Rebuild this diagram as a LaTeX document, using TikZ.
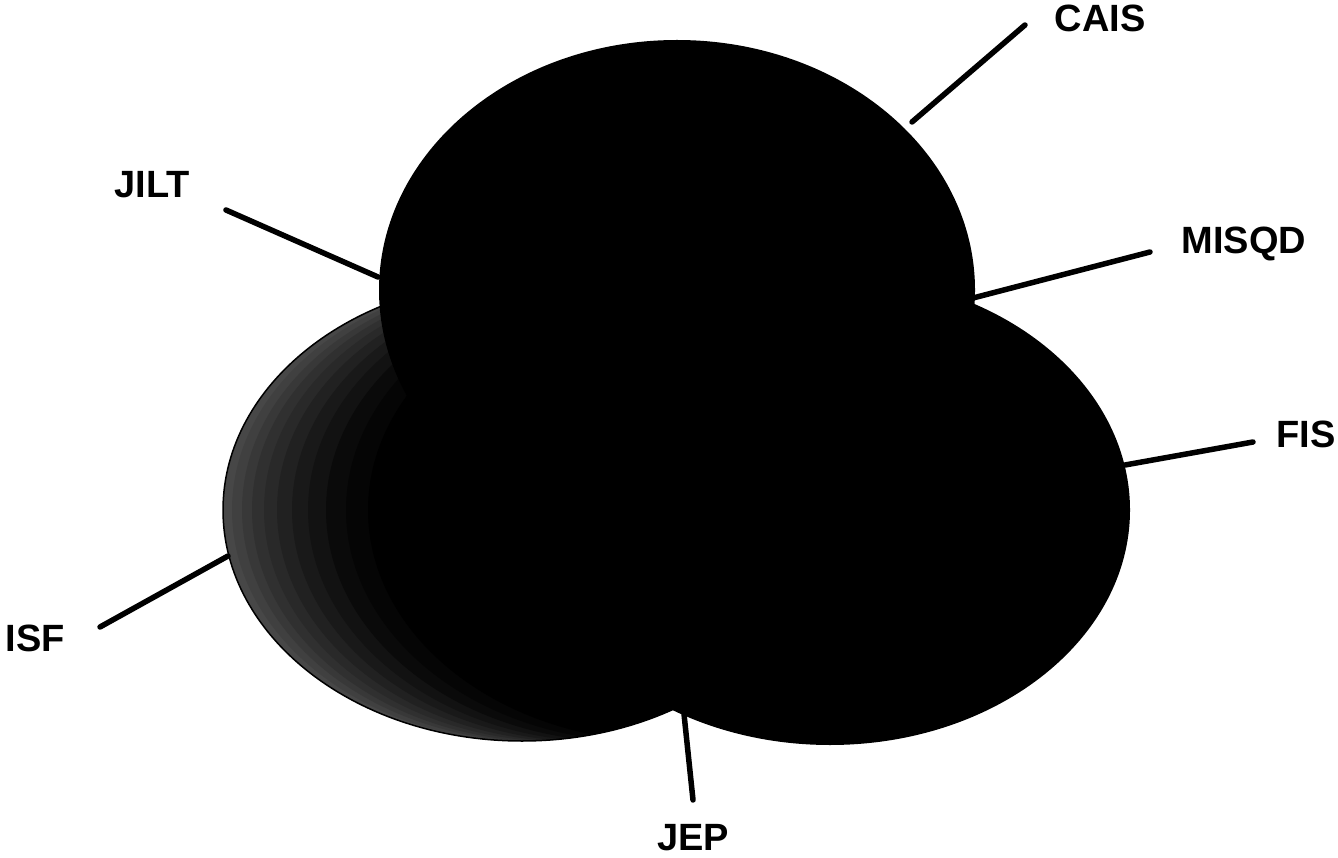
\documentclass[tikz,border=0pt]{standalone}
\usepackage{fontspec}
\setmainfont{Liberation Sans}
\begin{document}
\begin{tikzpicture}[x=1pt,y=-1pt,
  lbl/.style={font=\fontsize{38}{42}\selectfont\bfseries, inner sep=0pt, text=black},
  lead/.style={line width=5.5pt, line cap=round, draw=black},
  blob/.style={fill=black}]
\useasboundingbox (0,0) rectangle (1338,858);
% left lobe with speckled grey rim
\begin{scope}
  \clip (522,510) ellipse [x radius=299pt, y radius=231pt];
  \fill[black!72] (522,510) ellipse [x radius=300pt, y radius=232pt];
  \foreach \d/\c in {10/75,20/78,30/81,42/84,55/87,70/90,86/93,104/96,124/98,146/100}{
    \fill[black!\c] (522+\d,510) ellipse [x radius=300pt, y radius=232pt];
  }
\end{scope}
\draw[line width=1.5pt] (522,510) ellipse [x radius=299pt, y radius=231pt];
% top and right lobes
\fill[blob] (677,290) ellipse [x radius=298pt, y radius=250pt];
\fill[blob] (830,510) ellipse [x radius=300pt, y radius=235pt];
\fill[blob] (560,300) rectangle (830,700);
% anchor points on the outline
\coordinate (pCAIS) at (912,122);
\coordinate (pMISQD) at (973,298);
\coordinate (pFIS) at (1125,465);
\coordinate (pJEP) at (684,714);
\coordinate (pISF) at (228,556);
\coordinate (pJILT) at (378,277);
% free ends
\coordinate (eCAIS) at (1025,25);
\coordinate (eMISQD) at (1150,252);
\coordinate (eFIS) at (1253,442);
\coordinate (eJEP) at (693,800);
\coordinate (eISF) at (100,627);
\coordinate (eJILT) at (226,210);
% labels
\node[lbl] (CAIS) at (1100,18) {CAIS};
\node[lbl] (MISQD) at (1244,244) {MISQD};
\node[lbl] (FIS) at (1306,434) {FIS};
\node[lbl] (JEP) at (693,838) {JEP};
\node[lbl] (ISF) at (35,638) {ISF};
\node[lbl] (JILT) at (152,185) {JILT};
% leaders
\draw[lead] (pCAIS) -- (eCAIS);
\draw[lead] (pMISQD) -- (eMISQD);
\draw[lead] (pFIS) -- (eFIS);
\draw[lead] (pJEP) -- (eJEP);
\draw[lead] (pISF) -- (eISF);
\draw[lead] (pJILT) -- (eJILT);
\end{tikzpicture}
\end{document}
